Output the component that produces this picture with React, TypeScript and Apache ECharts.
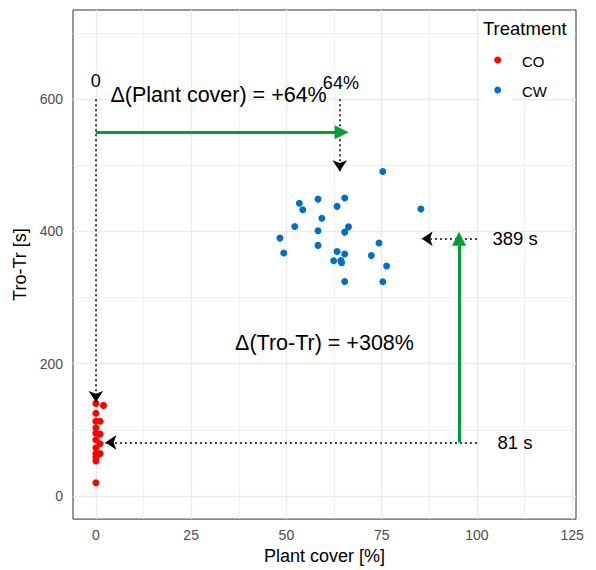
import React, { useEffect, useRef } from 'react';
import * as echarts from 'echarts';

const FONT = '"Liberation Sans", Arial, Helvetica, sans-serif';

// axes
const xTicks = [0, 25, 50, 75, 100, 125];
const xMinor = [12.5, 37.5, 62.5, 87.5, 112.5];
const yTicks = [0, 200, 400, 600];
const yMinor = [100, 300, 500, 700];
const X_MIN = -6;
const X_MAX = 126;
const Y_MIN = -35;
const Y_MAX = 735;

// legend
const treatments = ['CO', 'CW'];
const treatmentColors = ['#FF0000', '#0070C0'];

// CO treatment
const coX = [0, 2.0, 0, 0, 1.1, 0, 0, 1.1, 0, 1.1, 0, 0, 1.1, 0, 0, 0];
const coY = [140, 137, 125, 113, 113, 103, 95, 93.5, 85, 79, 73, 64, 64, 58, 53, 20];

// CW treatment
const cwX = [75.3, 85.3, 53.4, 58.3, 65.3, 54.3, 63.3, 59.3, 52.2, 58.3, 66.3, 65.3, 48.3,
  49.3, 58.3, 74.3, 63.3, 65.3, 62.4, 64.3, 64.5, 72.3, 76.3, 65.3, 75.3];
const cwY = [490.6, 433.9, 442.8, 449, 450.7, 433, 438, 420, 407.5, 401, 407, 399, 390,
  367.6, 379, 382.6, 369.7, 366, 355.7, 356, 352.7, 363.7, 347.8, 324.3, 323.9];

// annotations
const dottedArrows: [number, number, number, number][] = [
  [0, 600, 0, 142],
  [64, 600, 64, 491],
  [100, 389, 85.5, 389],
  [100, 81, 2.5, 81],
];
const greenArrows: [number, number, number, number][] = [
  [0, 550, 64.5, 550],
  [95.3, 81, 95.3, 389],
];
const labelTexts = ['0', '64%', 'Δ(Plant cover) = +64%', 'Δ(Tro-Tr) = +308%', '389 s', '81 s'];
const labelX = [0, 64.3, 32.2, 60, 110, 110];
const labelY = [628, 625, 606, 231, 389, 81];
const labelSize = [18, 18, 21.5, 21.5, 18.5, 18.5];

export default function App() {
  const ref = useRef<HTMLDivElement>(null);
  useEffect(() => {
    if (!ref.current) return;
    const chart = echarts.init(ref.current, undefined, { renderer: 'svg' });

    const gridLines = [
      ...xTicks.map((v) => ({ coords: [[v, Y_MIN], [v, Y_MAX]], lineStyle: { width: 1.4 } })),
      ...xMinor.map((v) => ({ coords: [[v, Y_MIN], [v, Y_MAX]], lineStyle: { width: 0.8 } })),
      ...yTicks.map((v) => ({ coords: [[X_MIN, v], [X_MAX, v]], lineStyle: { width: 1.4 } })),
      ...yMinor.map((v) => ({ coords: [[X_MIN, v], [X_MAX, v]], lineStyle: { width: 0.8 } })),
    ];

    const legendGraphics: any[] = [];
    treatments.forEach((t, i) => {
      const cy = 60 + i * 30;
      legendGraphics.push({
        type: 'circle', z: 10, shape: { cx: 497.7, cy, r: 3.5 }, style: { fill: treatmentColors[i] },
      });
      legendGraphics.push({
        type: 'text', z: 10, x: 522, y: cy + 1,
        style: { text: t, fontSize: 15, fontFamily: FONT, fill: '#000', textVerticalAlign: 'middle' },
      });
    });

    const option: any = {
      animation: false,
      backgroundColor: '#ffffff',
      grid: {
        left: 73,
        right: 20,
        top: 10,
        bottom: 46,
        show: true,
        borderColor: '#333333',
        borderWidth: 1,
        backgroundColor: 'transparent',
      },
      xAxis: {
        type: 'value',
        min: X_MIN,
        max: X_MAX,
        name: 'Plant cover [%]',
        nameLocation: 'middle',
        nameGap: 27,
        nameTextStyle: { fontSize: 18, color: '#000', fontFamily: FONT },
        axisLine: { show: false },
        splitLine: { show: false },
        axisTick: { show: true, length: 5, lineStyle: { color: '#333' }, customValues: xTicks },
        axisLabel: { customValues: xTicks, fontSize: 14, color: '#4D4D4D', fontFamily: FONT, margin: 9 },
      },
      yAxis: {
        type: 'value',
        min: Y_MIN,
        max: Y_MAX,
        name: 'Tro-Tr [s]',
        nameLocation: 'middle',
        nameGap: 39,
        nameTextStyle: { fontSize: 18, color: '#000', fontFamily: FONT },
        axisLine: { show: false },
        splitLine: { show: false },
        axisTick: { show: true, length: 5, lineStyle: { color: '#333' }, customValues: yTicks },
        axisLabel: { customValues: yTicks, fontSize: 14, color: '#4D4D4D', fontFamily: FONT, margin: 10 },
      },
      graphic: [
        { type: 'rect', z: 5, shape: { x: 480, y: 11, width: 95, height: 87 }, style: { fill: '#fff' } },
        { type: 'rect', z: 5, shape: { x: 482, y: 45, width: 30, height: 57 }, style: { fill: '#fff' } },
        {
          type: 'text',
          z: 10,
          x: 483,
          y: 28,
          style: { text: 'Treatment', fontSize: 18.5, fontFamily: FONT, fill: '#000', textVerticalAlign: 'middle' },
        },
        ...legendGraphics,
      ],
      series: [
        {
          name: 'grid',
          type: 'lines',
          coordinateSystem: 'cartesian2d',
          silent: true,
          z: 1,
          symbol: ['none', 'none'],
          lineStyle: { color: '#EBEBEB', opacity: 1 },
          data: gridLines,
        },
        {
          name: treatments[0],
          type: 'scatter',
          z: 3,
          symbolSize: 7,
          itemStyle: { color: treatmentColors[0], opacity: 1 },
          data: coX.map((x, i) => [x, coY[i]]),
        },
        {
          name: treatments[1],
          type: 'scatter',
          z: 3,
          symbolSize: 7,
          itemStyle: { color: treatmentColors[1], opacity: 1 },
          data: cwX.map((x, i) => [x, cwY[i]]),
        },
        {
          name: 'dotted',
          type: 'lines',
          coordinateSystem: 'cartesian2d',
          silent: true,
          z: 4,
          symbol: ['none', 'arrow'],
          symbolSize: 11,
          lineStyle: { color: '#000000', width: 1.5, type: [2, 3], opacity: 1 },
          data: dottedArrows.map((a) => ({ coords: [[a[0], a[1]], [a[2], a[3]]] })),
        },
        {
          name: 'green',
          type: 'lines',
          coordinateSystem: 'cartesian2d',
          silent: true,
          z: 4,
          symbol: ['none', 'triangle'],
          symbolSize: 14,
          lineStyle: { color: '#009E35', width: 3, opacity: 1 },
          data: greenArrows.map((a) => ({ coords: [[a[0], a[1]], [a[2], a[3]]] })),
        },
        {
          name: 'labels',
          type: 'scatter',
          silent: true,
          z: 6,
          symbolSize: 0.1,
          itemStyle: { color: 'transparent' },
          data: labelTexts.map((t, i) => ({
            name: t,
            value: [labelX[i], labelY[i]],
            label: {
              show: true,
              position: 'inside',
              formatter: '{b}',
              fontSize: labelSize[i],
              fontFamily: FONT,
              color: '#000000',
              opacity: 1,
              textBorderWidth: 0,
            },
          })),
        },
      ],
    };
    chart.setOption(option);
    return () => chart.dispose();
  }, []);
  return <div ref={ref} style={{ position: 'fixed', left: 0, top: 0, width: 596, height: 570 }} />;
}
